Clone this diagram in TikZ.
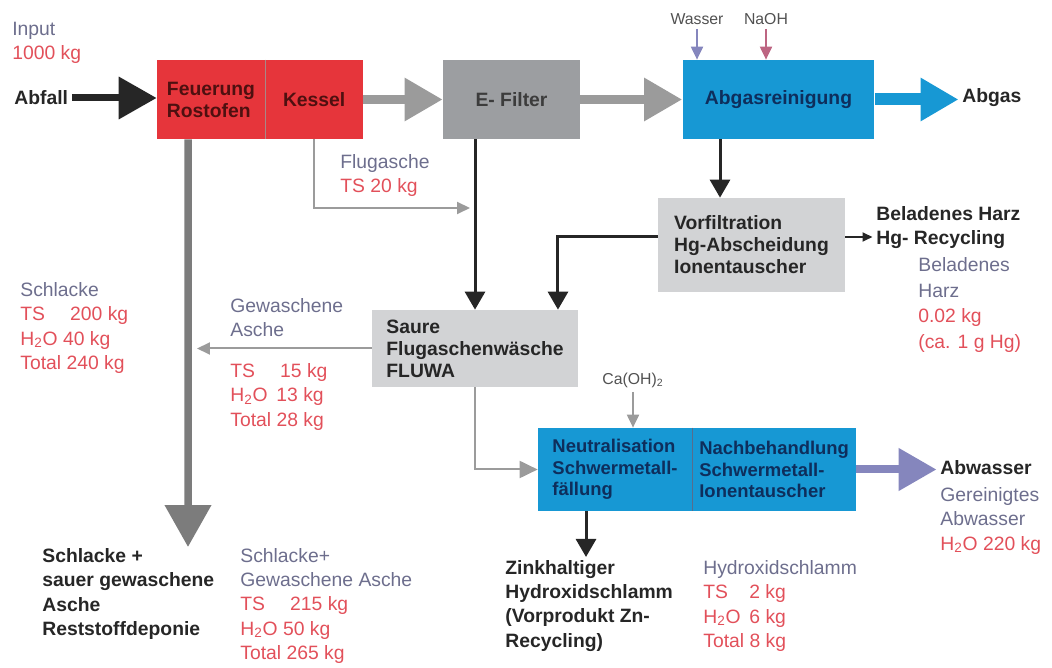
\documentclass[tikz,border=0pt]{standalone}
\usepackage{fontspec}
\setmainfont{Liberation Sans}
\usepackage{tikz}
\usetikzlibrary{positioning}
\usetikzlibrary{arrows.meta}
\definecolor{ofenrot}{HTML}{E6353B}
\definecolor{filtergrau}{HTML}{9C9EA1}
\definecolor{hellgrau}{HTML}{D2D3D5}
\definecolor{wasserblau}{HTML}{1798D4}
\definecolor{dunkelblau}{HTML}{0E2E5C}
\definecolor{dunkelrot}{HTML}{4E1010}
\definecolor{pfeilgrau}{HTML}{9B9B9B}
\definecolor{lila}{HTML}{8586BD}
\definecolor{beschrift}{HTML}{6D6E8D}
\definecolor{mengerot}{HTML}{E2505A}
\definecolor{schwarz}{HTML}{262626}
\tikzset {
  % labels beside the flows
  txt/.style={font=\fontsize{11}{13.7}\selectfont, align=left, inner sep=2pt},
  bold/.style={txt, font=\fontsize{11}{13.7}\selectfont\bfseries, text=schwarz},
  note/.style={txt, text=beschrift},
  menge/.style={txt, text=mengerot},
  klein/.style={font=\fontsize{9}{10.8}\selectfont, text=schwarz!80, inner sep=2pt},
  % process steps
  box/.style={minimum height=1.58cm, inner sep=2pt, align=left, font=\fontsize{11}{12.5}\selectfont\bfseries},
  ofen/.style={box, fill=ofenrot, text=dunkelrot},
  filterbox/.style={box, fill=filtergrau, text=schwarz!90},
  blaubox/.style={box, fill=wasserblau, text=dunkelblau},
  hellbox/.style={box, fill=hellgrau, text=schwarz},
  % main streams
  dick/.style={-{Triangle[length=0.76cm, width=0.82cm]}, line width=0.18cm},
  grau/.style={dick, pfeilgrau},
  blau/.style={dick, wasserblau, line width=0.24cm},
  lilapf/.style={dick, lila, line width=0.16cm},
  eintrag/.style={dick, schwarz, line width=0.14cm},
  schlacke/.style={-{Triangle[length=0.84cm, width=0.9cm]}, line width=0.15cm, pfeilgrau!80!black},
  % side streams
  linie/.style={-{Triangle[length=0.36cm, width=0.4cm]}, line width=0.06cm, schwarz},
  duenn/.style={-{Triangle[length=0.26cm, width=0.24cm]}, line width=0.04cm, pfeilgrau},
  duennschwarz/.style={-{Triangle[length=0.2cm, width=0.18cm]}, line width=0.035cm, schwarz},
}
\begin{document}
\begin{tikzpicture}[x=0.02cm, y=-0.02cm]
  \useasboundingbox (0,0) rectangle (1052,668);

  \node[ofen, minimum width=2.16cm] (ofen) at (211,99.5) {Feuerung\\Rostofen};
  \node[ofen, minimum width=1.94cm, right=0pt of ofen] (kessel) {Kessel};
  \node[filterbox, minimum width=2.74cm] (efilter) at (511.5,99.5) {E- Filter};
  \node[blaubox, minimum width=3.84cm] (reinigung) at (778.5,99.5) {Abgasreinigung};
  \node[hellbox, minimum width=3.74cm, minimum height=1.88cm] (vorfilt) at (751.5,245) {Vorfiltration\\Hg-Abscheidung\\Ionentauscher};
  \node[hellbox, minimum width=4.12cm, minimum height=1.54cm] (fluwa) at (475,348.5) {Saure\\Flugaschenwäsche\\FLUWA};
  \node[blaubox, minimum width=3.08cm, minimum height=1.66cm, font=\fontsize{10.5}{12.3}\selectfont\bfseries] (neutral) at (615,469.5) {Neutralisation\\Schwermetall-\\fällung};
  \node[blaubox, minimum width=3.26cm, minimum height=1.66cm, font=\fontsize{10.5}{12.3}\selectfont\bfseries, right=0pt of neutral] (nachbeh) {Nachbehandlung\\Schwermetall-\\Ionentauscher};
  \draw[dunkelrot!50, line width=0.02cm] (kessel.north west) -- (kessel.south west);
  \draw[dunkelblau!70, line width=0.02cm] (nachbeh.north west) -- (nachbeh.south west);

  \node[note, anchor=west] (input) at (8.5,42.5) {Input\\\textcolor{mengerot}{1000 kg}};
  \node[bold, anchor=west] (abfall) at (10.5,98) {Abfall};
  \node[bold, anchor=west] (abgas) at (958.5,98) {Abgas};
  \node[klein, anchor=south] (wasser) at (697,29) {Wasser};
  \node[klein, anchor=south] (naoh) at (766,29) {NaOH};
  \node[bold, anchor=west] (harz) at (872.5,227.5) {Beladenes Harz\\Hg- Recycling};
  \node[note, anchor=west, font=\fontsize{11}{14.5}\selectfont] (harzmenge) at (914.5,305) {Beladenes\\Harz\\\textcolor{mengerot}{0.02 kg}\\\textcolor{mengerot}{(ca. 1 g Hg)}};
  \node[note, anchor=west] (flugasche) at (336.5,175.5) {Flugasche\\\textcolor{mengerot}{TS 20 kg}};
  \node[note, anchor=west] (schlacke) at (16.5,328) {Schlacke\\\textcolor{mengerot}{TS\hspace{1.3em}200 kg}\\\textcolor{mengerot}{H\textsubscript{2}O 40 kg}\\\textcolor{mengerot}{Total 240 kg}};
  \node[note, anchor=west] (gewaschen) at (226.5,317.5) {Gewaschene\\Asche};
  \node[menge, anchor=west] (waschmenge) at (226.5,397) {TS\hspace{1.3em}15 kg\\H\textsubscript{2}O\hspace{0.45em}13 kg\\Total 28 kg};
  \node[klein, anchor=south] (caoh) at (633,392) {Ca(OH)\textsubscript{2}};
  \node[bold, anchor=west] (abwasser) at (936.5,468) {Abwasser};
  \node[note, anchor=west] (abwassermenge) at (936.5,521) {Gereinigtes\\Abwasser\\\textcolor{mengerot}{H\textsubscript{2}O 220 kg}};
  \node[bold, anchor=west] (zink) at (501.5,606) {Zinkhaltiger\\Hydroxidschlamm\\(Vorprodukt Zn-\\Recycling)};
  \node[note, anchor=west] (schlamm) at (699.5,606) {Hydroxidschlamm\\\textcolor{mengerot}{TS\hspace{1.1em}2 kg}\\\textcolor{mengerot}{H\textsubscript{2}O\hspace{0.45em}6 kg}\\\textcolor{mengerot}{Total 8 kg}};
  \node[bold, anchor=west] (deponie) at (38.5,594) {Schlacke +\\sauer gewaschene\\Asche\\Reststoffdeponie};
  \node[note, anchor=west] (deponiemenge) at (236.5,606) {Schlacke+\\Gewaschene Asche\\\textcolor{mengerot}{TS\hspace{1.3em}215 kg}\\\textcolor{mengerot}{H\textsubscript{2}O 50 kg}\\\textcolor{mengerot}{Total 265 kg}};

  \coordinate (flugein) at (470,208);
  \coordinate (deponieein) at (188,547);
  \coordinate (aschein) at (197,348.5);

  \draw[eintrag] (abfall.east) -- (abfall.east -| ofen.west);
  \draw[grau] (kessel) -- (efilter);
  \draw[grau] (efilter) -- (reinigung);
  \draw[blau] (reinigung.east) -- (reinigung.east -| abgas.west);
  \draw[duenn, lila] (wasser.south) -- (wasser.south |- reinigung.north);
  \draw[duenn, mengerot!60!lila] (naoh.south) -- (naoh.south |- reinigung.north);
  \draw[linie] ([xshift=-1.17cm]reinigung.south) -- ([xshift=-1.17cm]reinigung.south |- vorfilt.north);
  \draw[duennschwarz] ([yshift=0.16cm]vorfilt.east) -- ([yshift=0.16cm]vorfilt.east -| harz.west);
  \draw[linie] ([yshift=0.16cm]vorfilt.west) -| ([xshift=1.66cm]fluwa.north);
  \draw[linie] (fluwa.north |- efilter.south) -- (fluwa.north);
  \draw[duenn] (kessel.south) |- (flugein);
  \draw[schlacke] ([xshift=-0.46cm]ofen.south) -- (deponieein);
  \draw[duenn] (fluwa.west) -- (aschein);
  \draw[duenn, -{Triangle[length=0.36cm, width=0.34cm]}] (fluwa.south) |- (neutral.west);
  \draw[duenn] (caoh.south) -- (caoh.south |- neutral.north);
  \draw[lilapf] (nachbeh.east) -- (nachbeh.east -| abwasser.west);
  \draw[linie] ([xshift=-0.58cm]neutral.south) -- ([xshift=-0.58cm]neutral.south |- zink.north);
\end{tikzpicture}
\end{document}
